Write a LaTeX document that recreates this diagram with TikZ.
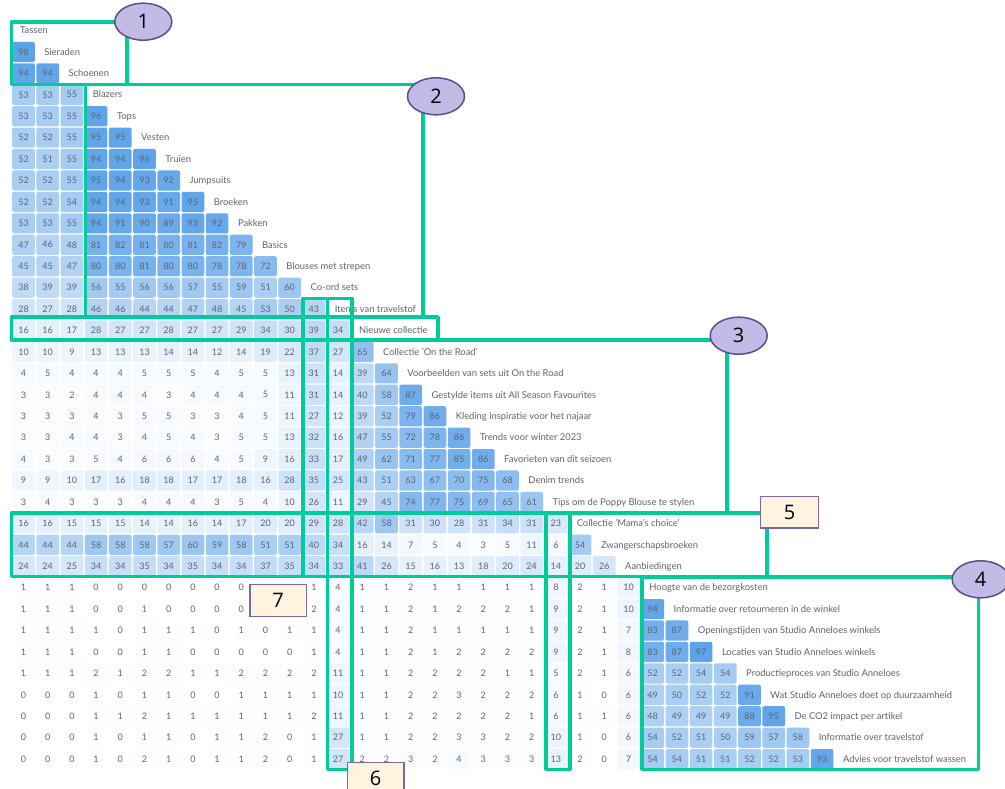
\documentclass[tikz,border=0pt]{standalone}
\usepackage{fontspec}
\setmainfont{Lato}
\newfontfamily\tagfont{Open Sans}
\usetikzlibrary{shapes.geometric}
\definecolor{cellblue}{HTML}{58A0E9}
\definecolor{framegreen}{HTML}{00CC99}
\definecolor{tagfill}{HTML}{C4BAE6}
\definecolor{tagline}{HTML}{5A4E8C}
\definecolor{boxfill}{HTML}{FFF4DF}
\definecolor{boxline}{HTML}{7B68AC}
\definecolor{inkgray}{HTML}{5F646A}
\tikzset{
  cellbox/.style={inner sep=0pt,minimum width=22.7pt,minimum height=20.2pt,rounded corners=2pt,
    text=inkgray,font=\fontsize{9}{10}\selectfont},
  rowlabel/.style={inner sep=0pt,anchor=base west,text=inkgray,font=\fontsize{9.4}{11}\selectfont},
  greenframe/.style={draw=framegreen,line width=3.6pt,line join=round},
  tagoval/.style={ellipse,draw=tagline,fill=tagfill,line width=1.5pt,minimum width=57pt,minimum height=37pt,inner sep=0pt,
    font=\tagfont\fontsize{20}{22}\selectfont,text=black},
  tagbox/.style={rectangle,draw=boxline,fill=boxfill,line width=1.5pt,inner sep=0pt,
    font=\tagfont\fontsize{20}{22}\selectfont,text=black},
}
\newcommand{\matrow}[3]{%
  \node[rowlabel] (lab-#1) at ({20+24.2*#1},{30.5+21.43*#1+3.2}) {#2};
  \foreach \v [count=\k from 0] in {#3} {%
    \ifnum\v<0
    \else
      \node[cellbox,fill=cellblue!\v!white] (c-#1-\k) at ({23.5+24.2*\k},{30.5+21.43*#1}) {\v};
    \fi
  }%
}
\begin{document}
\begin{tikzpicture}[x=1pt,y=-1pt]
\useasboundingbox[fill=white] (0,0) rectangle (1005,789);
\node[rowlabel] (lab-0) at (20,33.7) {Tassen};
\matrow{1}{Sieraden}{98}
\matrow{2}{Schoenen}{94,94}
\matrow{3}{Blazers}{53,53,55}
\matrow{4}{Tops}{53,53,55,96}
\matrow{5}{Vesten}{52,52,55,95,95}
\matrow{6}{Truien}{52,51,55,94,94,96}
\matrow{7}{Jumpsuits}{52,52,55,95,94,93,92}
\matrow{8}{Broeken}{52,52,54,94,94,93,91,95}
\matrow{9}{Pakken}{53,53,55,94,91,90,89,93,92}
\matrow{10}{Basics}{47,46,48,81,82,81,80,81,82,79}
\matrow{11}{Blouses met strepen}{45,45,47,80,80,81,80,80,78,78,72}
\matrow{12}{Co-ord sets}{38,39,39,56,55,56,56,57,55,59,51,60}
\matrow{13}{Items van travelstof}{28,27,28,46,46,44,44,47,48,45,53,50,43}
\matrow{14}{Nieuwe collectie}{16,16,17,28,27,27,28,27,27,29,34,30,39,34}
\matrow{15}{Collectie 'On the Road'}{10,10,9,13,13,13,14,14,12,14,19,22,37,27,65}
\matrow{16}{Voorbeelden van sets uit On the Road}{4,5,4,4,4,5,5,5,4,5,5,13,31,14,39,64}
\matrow{17}{Gestylde items uit All Season Favourites}{3,3,2,4,4,4,3,4,4,4,5,11,31,14,40,58,87}
\matrow{18}{Kleding inspiratie voor het najaar}{3,3,3,4,3,5,5,3,3,4,5,11,27,12,39,52,79,86}
\matrow{19}{Trends voor winter 2023}{3,3,4,4,3,4,5,4,3,5,5,13,32,16,47,55,72,78,86}
\matrow{20}{Favorieten van dit seizoen}{4,3,3,5,4,6,6,6,4,5,9,16,33,17,49,62,71,77,85,86}
\matrow{21}{Denim trends}{9,9,10,17,16,18,18,17,17,18,16,28,35,25,43,51,63,67,70,75,68}
\matrow{22}{Tips om de Poppy Blouse te stylen}{3,4,3,3,3,4,4,4,3,5,4,10,26,11,29,45,74,77,75,69,65,61}
\matrow{23}{Collectie 'Mama's choice'}{16,16,15,15,15,14,14,16,14,17,20,20,29,28,42,58,31,30,28,31,34,31,23}
\matrow{24}{Zwangerschapsbroeken}{44,44,44,58,58,58,57,60,59,58,51,51,40,34,16,14,7,5,4,3,5,11,6,54}
\matrow{25}{Aanbiedingen}{24,24,25,34,34,35,34,35,34,34,37,35,34,33,41,26,15,16,13,18,20,24,14,20,26}
\matrow{26}{Hoogte van de bezorgkosten}{1,1,1,0,0,0,0,0,0,0,-1,-1,1,4,1,1,2,1,1,1,1,1,8,2,1,10}
\matrow{27}{Informatie over retourneren in de winkel}{1,1,1,0,0,1,0,0,0,0,-1,-1,2,4,1,1,2,1,2,2,2,1,9,2,1,10,94}
\matrow{28}{Openingstijden van Studio Anneloes winkels}{1,1,1,1,0,1,1,1,0,1,0,1,1,4,1,1,2,1,1,1,1,1,9,2,1,7,83,87}
\matrow{29}{Locaties van Studio Anneloes winkels}{1,1,1,0,0,1,1,0,0,0,0,0,1,4,1,1,2,1,2,2,2,2,9,2,1,8,83,87,97}
\matrow{30}{Productieproces van Studio Anneloes}{1,1,1,2,1,2,2,1,1,2,2,2,2,11,1,1,2,2,2,2,1,1,5,2,1,6,52,52,54,54}
\matrow{31}{Wat Studio Anneloes doet op duurzaamheid}{0,0,0,1,0,1,1,0,0,1,1,1,1,10,1,1,2,2,3,2,2,2,6,1,0,6,49,50,52,52,91}
\matrow{32}{De CO2 impact per artikel}{0,0,0,1,1,2,1,1,1,1,1,1,2,11,1,1,2,2,2,2,2,1,6,1,1,6,48,49,49,49,88,95}
\matrow{33}{Informatie over travelstof}{0,0,0,1,0,1,1,0,1,1,2,0,1,27,1,1,2,2,3,3,2,2,10,1,0,6,54,52,51,50,59,57,58}
\matrow{34}{Advies voor travelstof wassen}{0,0,0,1,0,2,1,0,1,1,2,0,1,27,2,2,3,2,4,3,3,3,13,2,0,7,54,54,51,51,52,52,53,93}
% green frames
\draw[greenframe] (11.3,22) rectangle (127,84.7);
\draw[greenframe] (85.3,84.7) rectangle (423,317);
\draw[greenframe] (11.3,317) rectangle (438,340);
\draw[greenframe] (351.7,340) rectangle (727,513);
\draw[greenframe] (11.3,513) rectangle (767,576.5);
\draw[greenframe] (641.7,577.2) rectangle (978.3,769.3);
\draw[greenframe] (303,298.3) rectangle (327.3,576.5);
\draw[greenframe] (327.3,298.3) rectangle (351.7,769.3);
\draw[greenframe] (546,513) rectangle (570,769.3);
% tags
\node[tagoval] (tag1) at (143.3,21.7) {1};
\node[tagoval] (tag2) at (436,96.3) {2};
\node[tagoval] (tag3) at (738.7,335.7) {3};
\node[tagoval] (tag4) at (980.7,579.3) {4};
\node[tagbox,minimum width=58pt,minimum height=31.5pt] (box5) at (789.7,512.2) {5};
\node[tagbox,minimum width=56.5pt,minimum height=32pt] (box6) at (375.7,778.7) {6};
\node[tagbox,minimum width=56.5pt,minimum height=31.6pt] (box7) at (278,600.5) {7};
\end{tikzpicture}
\end{document}
